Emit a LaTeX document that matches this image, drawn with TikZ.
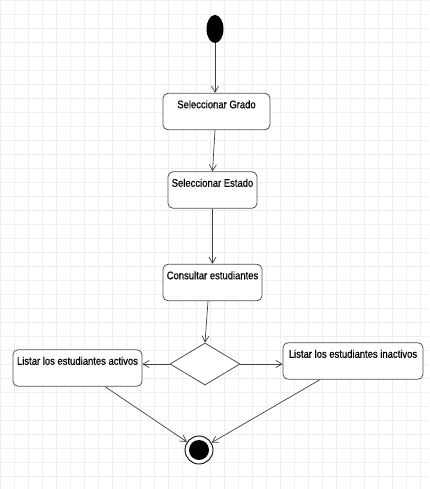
\documentclass[tikz,border=0pt]{standalone}
\usepackage{fontspec}
\setmainfont[FakeStretch=0.86,FakeBold=0.4]{Liberation Sans}
\usetikzlibrary{arrows.meta,shapes.geometric}
\definecolor{gridc}{HTML}{EEEEEE}
\definecolor{linec}{HTML}{404040}
\definecolor{boxc}{HTML}{505050}
\begin{document}
\begin{tikzpicture}[x=1pt,y=-1pt,
  act/.style={draw=boxc, line width=0.8pt, fill=white, rounded corners=5pt,
    font=\fontsize{11}{13}\selectfont, text height=8pt, text depth=14.5pt,
    inner ysep=7pt, inner xsep=2pt},
  flow/.style={draw=linec, line width=0.7pt, -{Straight Barb[angle=60:7pt]}},
  dec/.style={diamond, draw=boxc, line width=0.8pt, fill=white, aspect=1.667,
    minimum width=70pt, minimum height=42pt, inner sep=0pt},
  startst/.style={ellipse, fill=black, minimum width=17pt, minimum height=28pt, inner sep=0pt},
  endst/.style={circle, draw=black, line width=0.9pt, fill=white, minimum size=28pt, inner sep=0pt}
]
\useasboundingbox (0,0) rectangle (429,489);
\fill[white] (0,0) rectangle (429,489);
\draw[gridc, line width=0.6pt, step=14pt] (0,0) grid (429,489);

\node[startst] (start) at (215,29) {};
\node[act, minimum width=107pt] (b1) at (216.5,111.5) {Seleccionar Grado};
\node[act, minimum width=89pt] (b2) at (212.5,190) {Seleccionar Estado};
\node[act, minimum width=99pt] (b3) at (212.5,282.5) {Consultar estudiantes};
\node[dec] (d) at (205,364) {};
\node[act, minimum width=129pt] (bl) at (77.5,368) {Listar los estudiantes activos};
\node[act, minimum width=140pt] (br) at (353,361) {Listar los estudiantes inactivos};
\node[endst] (end) at (199,450) {};
\fill[black] (end.center) circle (10pt);

\draw[flow] (start) -- ([xshift=-1.5pt]b1.north);
\draw[flow] ([xshift=-1.5pt]b1.south) -- (b2.north);
\draw[flow] (b2.south) -- (b3.north);
\draw[flow] ([xshift=-4.5pt]b3.south) -- (d.north);
\draw[flow] (d.west) -- (d.west -| bl.east);
\draw[flow] (d.east) -- (d.east -| br.west);
\draw[flow] ([xshift=27.5pt]bl.south) -- (end);
\draw[flow] ([xshift=-33pt]br.south) -- (end);
\end{tikzpicture}
\end{document}
